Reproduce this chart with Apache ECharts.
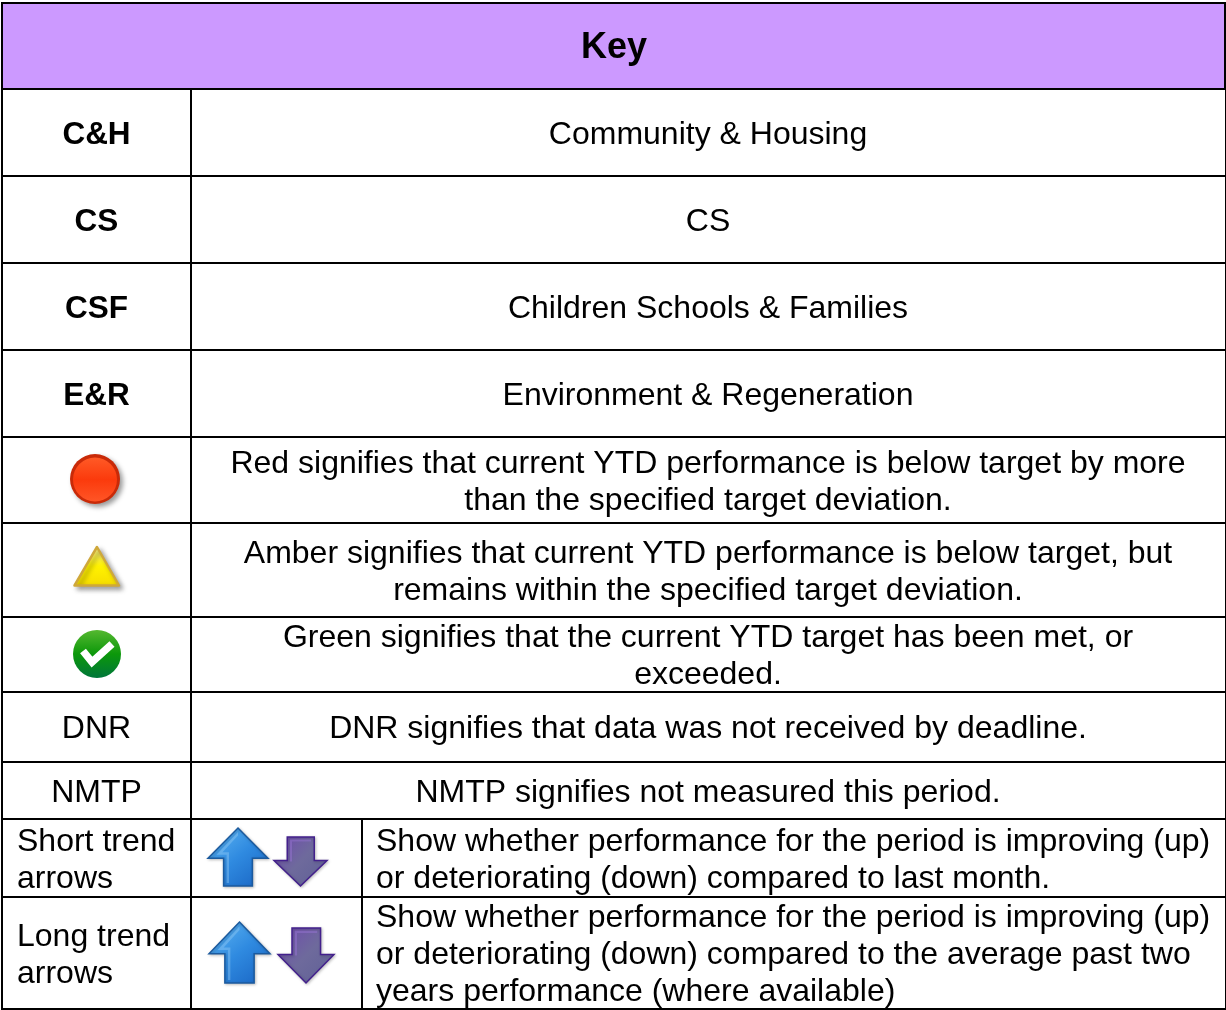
<!DOCTYPE html>
<html><head><meta charset="utf-8">
<style>html,body{margin:0;padding:0;background:#fff}#c{width:1226px;height:1010px}</style>
<script src="https://cdn.jsdelivr.net/npm/echarts@6/dist/echarts.min.js"></script>
</head><body><div id="c"></div>
<script>
// ---- content ----
const titleText = 'Key';
const departmentCodes = ['C&H', 'CS', 'CSF', 'E&R'];
const departmentNames = ['Community & Housing', 'CS', 'Children Schools & Families', 'Environment & Regeneration'];
const statusIcons = ['red', 'amber', 'green'];
const statusTexts = [
  'Red signifies that current YTD performance is below target by more\nthan the specified target deviation.',
  'Amber signifies that current YTD performance is below target, but\nremains within the specified target deviation.',
  'Green signifies that the current YTD target has been met, or\nexceeded.'
];
const noteCodes = ['DNR', 'NMTP'];
const noteTexts = ['DNR signifies that data was not received by deadline.', 'NMTP signifies not measured this period.'];
const trendNames = ['Short trend\narrows', 'Long trend\narrows'];
const trendTexts = [
  'Show whether performance for the period is improving (up)\nor deteriorating (down) compared to last month.',
  'Show whether performance for the period is improving (up)\nor deteriorating (down) compared to the average past two\nyears performance (where available)'
];

// ---- layout (page pixels on hidden 1:1 axes) ----
const rowEdges = [3, 89, 176, 263, 350, 437, 523, 617, 692, 762, 819, 897, 1009];
const colEdges = [2, 191, 362, 1225];
const statusIconCentres = [[95, 479], [97, 567], [97, 654]];
const arrowBoxes = {
  short: { up: [208, 828, 268, 886], down: [274, 837, 327, 886] },
  long: { up: [209, 922, 270, 983], down: [278, 928, 334, 983] }
};
const FONT = '"Liberation Sans", Arial, sans-serif';
const TEXT_DROP = 2.5;

const items = [];
function textItem(str, x, y, align, size, weight) { items.push({ kind: 'text', str, x, y: y + TEXT_DROP, align, size: size || 32, weight: weight || 'normal' }); }
const mid = (a, b) => (a + b) / 2;
const rc = i => mid(rowEdges[i], rowEdges[i + 1]);
const firstCol = mid(colEdges[0], colEdges[1]);
const wideCol = mid(colEdges[1], colEdges[3]);

items.push({ kind: 'fill', x0: colEdges[0], y0: rowEdges[0], x1: 1225, y1: rowEdges[1], color: '#cc99ff' });
rowEdges.forEach(y => items.push({ kind: 'fill', x0: 1, y0: y - 1, x1: 1226, y1: y + 1, color: '#000' }));
items.push({ kind: 'fill', x0: 1, y0: rowEdges[0] - 1, x1: 3, y1: 1010, color: '#000' });
items.push({ kind: 'fill', x0: colEdges[1] - 1, y0: rowEdges[1], x1: colEdges[1] + 1, y1: 1010, color: '#000' });
items.push({ kind: 'fill', x0: colEdges[2] - 1, y0: rowEdges[10], x1: colEdges[2] + 1, y1: 1010, color: '#000' });
items.push({ kind: 'fill', x0: 1224, y0: rowEdges[0] - 1, x1: 1226, y1: rowEdges[1], color: '#000' });
items.push({ kind: 'fill', x0: 1225, y0: rowEdges[1], x1: 1226, y1: 1010, color: '#000' });

textItem(titleText, 614, rc(0), 'center', 36, 'bold');
departmentCodes.forEach((t, i) => {
  textItem(t, firstCol, rc(i + 1), 'center', 31.5, 'bold');
  textItem(departmentNames[i], wideCol, rc(i + 1), 'center');
});
statusIcons.forEach((k, i) => {
  items.push({ kind: k, x: statusIconCentres[i][0], y: statusIconCentres[i][1] });
  textItem(statusTexts[i], wideCol, rc(i + 5), 'center');
});
noteCodes.forEach((t, i) => {
  textItem(t, firstCol, rc(i + 8), 'center');
  textItem(noteTexts[i], wideCol, rc(i + 8), 'center');
});
trendNames.forEach((t, i) => {
  textItem(t, 17, rc(i + 10), 'left');
  textItem(trendTexts[i], 376, rc(i + 10), 'left');
});
['short', 'long'].forEach(k => {
  items.push({ kind: 'up', box: arrowBoxes[k].up });
  items.push({ kind: 'down', box: arrowBoxes[k].down });
});

// unit-square arrow outlines and inner glints
const upArrow = [[0.5, 0], [1, 0.52], [0.74, 0.52], [0.74, 1], [0.26, 1], [0.26, 0.52], [0, 0.52]];
const downArrow = [[0.25, 0], [0.76, 0], [0.76, 0.48], [1, 0.48], [0.5, 1], [0, 0.48], [0.25, 0.48]];
const upGlint = [[0.5, 0.07], [0.14, 0.46], [0.31, 0.46], [0.31, 0.95], [0.35, 0.95], [0.35, 0.42], [0.24, 0.42], [0.5, 0.13]];
const downGlint = [[0.3, 0.05], [0.7, 0.05], [0.7, 0.09], [0.34, 0.09], [0.34, 0.5], [0.3, 0.5]];
const lin = (x0, y0, x1, y1, stops) => ({ type: 'linear', x: x0, y: y0, x2: x1, y2: y1, colorStops: stops.map((c, i) => ({ offset: i / (stops.length - 1), color: c })) });

function arrow(api, it, pts, glint, fill, stroke, glintColor) {
  const a = api.coord([it.box[0], it.box[1]]), b = api.coord([it.box[2], it.box[3]]);
  const w = b[0] - a[0], h = b[1] - a[1];
  const map = q => q.map(p => [a[0] + p[0] * w, a[1] + p[1] * h]);
  return { type: 'group', children: [
    { type: 'polygon', shape: { points: map(pts) }, style: { fill, stroke, lineWidth: 1.5, lineJoin: 'miter', shadowBlur: 3, shadowColor: 'rgba(0,0,0,0.22)', shadowOffsetX: 1, shadowOffsetY: 1 } },
    { type: 'polygon', shape: { points: map(glint) }, style: { fill: glintColor } }
  ] };
}

function renderItem(params, api) {
  const it = items[api.value(0)];
  if (it.kind === 'fill') {
    const a = api.coord([it.x0, it.y0]), b = api.coord([it.x1, it.y1]);
    return { type: 'rect', shape: { x: a[0], y: a[1], width: b[0] - a[0], height: b[1] - a[1] }, style: { fill: it.color } };
  }
  if (it.kind === 'text') {
    const p = api.coord([it.x, it.y]);
    return { type: 'text', x: p[0], y: p[1], style: { text: it.str, fill: '#000', font: it.weight + ' ' + it.size + 'px ' + FONT, lineHeight: 37, align: it.align, verticalAlign: 'middle' } };
  }
  if (it.kind === 'up') return arrow(api, it, upArrow, upGlint, lin(0.1, 0, 0.9, 1, ['#5db4f2', '#2f8ae0', '#1a66c4']), '#1b5a9e', 'rgba(165,215,250,0.35)');
  if (it.kind === 'down') return arrow(api, it, downArrow, downGlint, lin(0, 0, 1, 1, ['#6f48ae', '#6e6a9c', '#5f6096']), '#43208c', 'rgba(150,115,210,0.5)');
  const c = api.coord([it.x, it.y]);
  if (it.kind === 'red') {
    return { type: 'group', children: [
      { type: 'circle', shape: { cx: c[0], cy: c[1], r: 25 }, style: { fill: '#c92a08', shadowBlur: 5, shadowColor: 'rgba(0,0,0,0.4)', shadowOffsetX: 3, shadowOffsetY: 3 } },
      { type: 'circle', shape: { cx: c[0], cy: c[1] + 0.5, r: 22 }, style: { fill: lin(0, 0, 0, 1, ['#ff5a26', '#fb3a0c', '#ff5526']) } }
    ] };
  }
  if (it.kind === 'amber') {
    const tri = [[0, -20], [22, 18.5], [-22.5, 18.5]];
    return { type: 'polygon', shape: { points: tri.map(p => [c[0] + p[0], c[1] + p[1]]) }, style: { fill: lin(0, 0, 0, 1, ['#f9ef9a', '#fff200', '#f6dc00']), stroke: '#cfa83a', lineWidth: 2.5, lineJoin: 'round', shadowBlur: 5, shadowColor: 'rgba(0,0,0,0.35)', shadowOffsetX: 3, shadowOffsetY: 3 } };
  }
  if (it.kind === 'green') {
    return { type: 'group', children: [
      { type: 'circle', shape: { cx: c[0], cy: c[1], r: 24 }, style: { fill: lin(0, 0, 0, 1, ['#55b830', '#0c980a', '#00763a']) } },
      { type: 'polyline', shape: { points: [[c[0] - 14, c[1] - 3], [c[0] - 5, c[1] + 8], [c[0] + 15, c[1] - 10]] }, style: { fill: null, stroke: '#fff', lineWidth: 7.5 } }
    ] };
  }
}

const chart = echarts.init(document.getElementById('c'), null, { renderer: 'canvas' });
chart.setOption({
  animation: false,
  backgroundColor: '#fff',
  grid: { left: 0, right: 0, top: 0, bottom: 0 },
  xAxis: { type: 'value', min: 0, max: 1226, show: false },
  yAxis: { type: 'value', min: 0, max: 1010, inverse: true, show: false },
  series: [{ type: 'custom', coordinateSystem: 'cartesian2d', renderItem, clip: false, silent: true,
    encode: { x: 1, y: 2 }, data: items.map((it, i) => [i, 0, 0]) }]
});
</script></body></html>
